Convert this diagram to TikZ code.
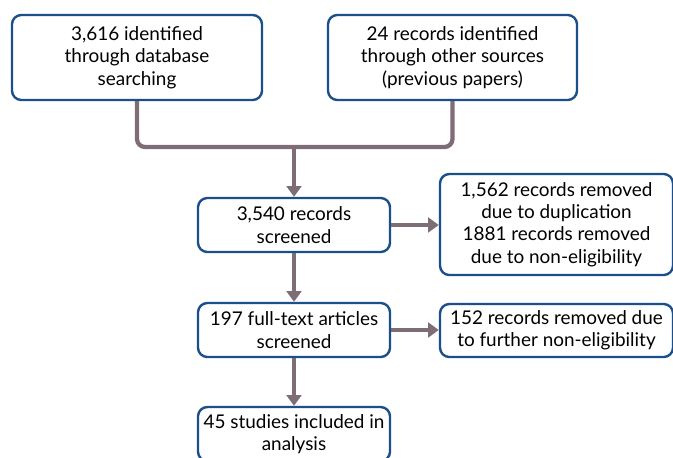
\documentclass[tikz,border=0pt]{standalone}
\usepackage{fontspec}
\setmainfont{Lato}
\usetikzlibrary{arrows.meta}
\definecolor{boxblue}{HTML}{1B4F8A}
\definecolor{flowgray}{HTML}{7E6D77}
\tikzset{
    stage/.style={draw=boxblue, line width=1.8pt, rounded corners=7pt, fill=white, align=center,
        font=\fontsize{14.2}{16.8}\selectfont, inner sep=1pt},
    flow/.style={draw=flowgray, line width=3.2pt, rounded corners=6pt},
    flowarrow/.style={flow, -{Triangle[width=11pt,length=8pt]}}
}

\begin{document}
\begin{tikzpicture}[x=0.75pt,y=-0.75pt]
    \clip (0,0) rectangle (673,457);
    \node[stage, minimum width=187.5pt, minimum height=63.75pt] (ident) at (137,57.5) {3,616 identified\\through database\\searching};
    \node[stage, minimum width=186.75pt, minimum height=63.75pt] (other) at (452.5,57.5) {24 records identified\\through other sources\\(previous papers)};
    \node[stage, minimum width=144pt, minimum height=40.5pt] (screen) at (294,225) {3,540 records\\screened};
    \node[stage, minimum width=174.75pt, minimum height=75.75pt] (removed) at (556.5,224.5) {1,562 records removed\\due to duplication\\1881 records removed\\due to non-eligibility};
    \node[stage, minimum width=144pt, minimum height=40.5pt] (fulltext) at (294,330) {197 full-text articles\\screened};
    \node[stage, minimum width=174.75pt, minimum height=39.75pt] (further) at (556.5,330.5) {152 records removed due\\to further non-eligibility};
    \node[stage, minimum width=144pt, minimum height=40.5pt] (included) at (294,434) {45 studies included in\\analysis};
    \coordinate (join) at (294,147);
    \draw[flow] (ident.south) |- (join) -| (other.south);
    \draw[flowarrow] (join) -- (screen.north);
    \draw[flowarrow] (screen.east) -- (removed.west |- screen.east);
    \draw[flowarrow] (screen.south) -- (fulltext.north);
    \draw[flowarrow] (fulltext.east) -- (further.west |- fulltext.east);
    \draw[flowarrow] (fulltext.south) -- (included.north);
\end{tikzpicture}
\end{document}
